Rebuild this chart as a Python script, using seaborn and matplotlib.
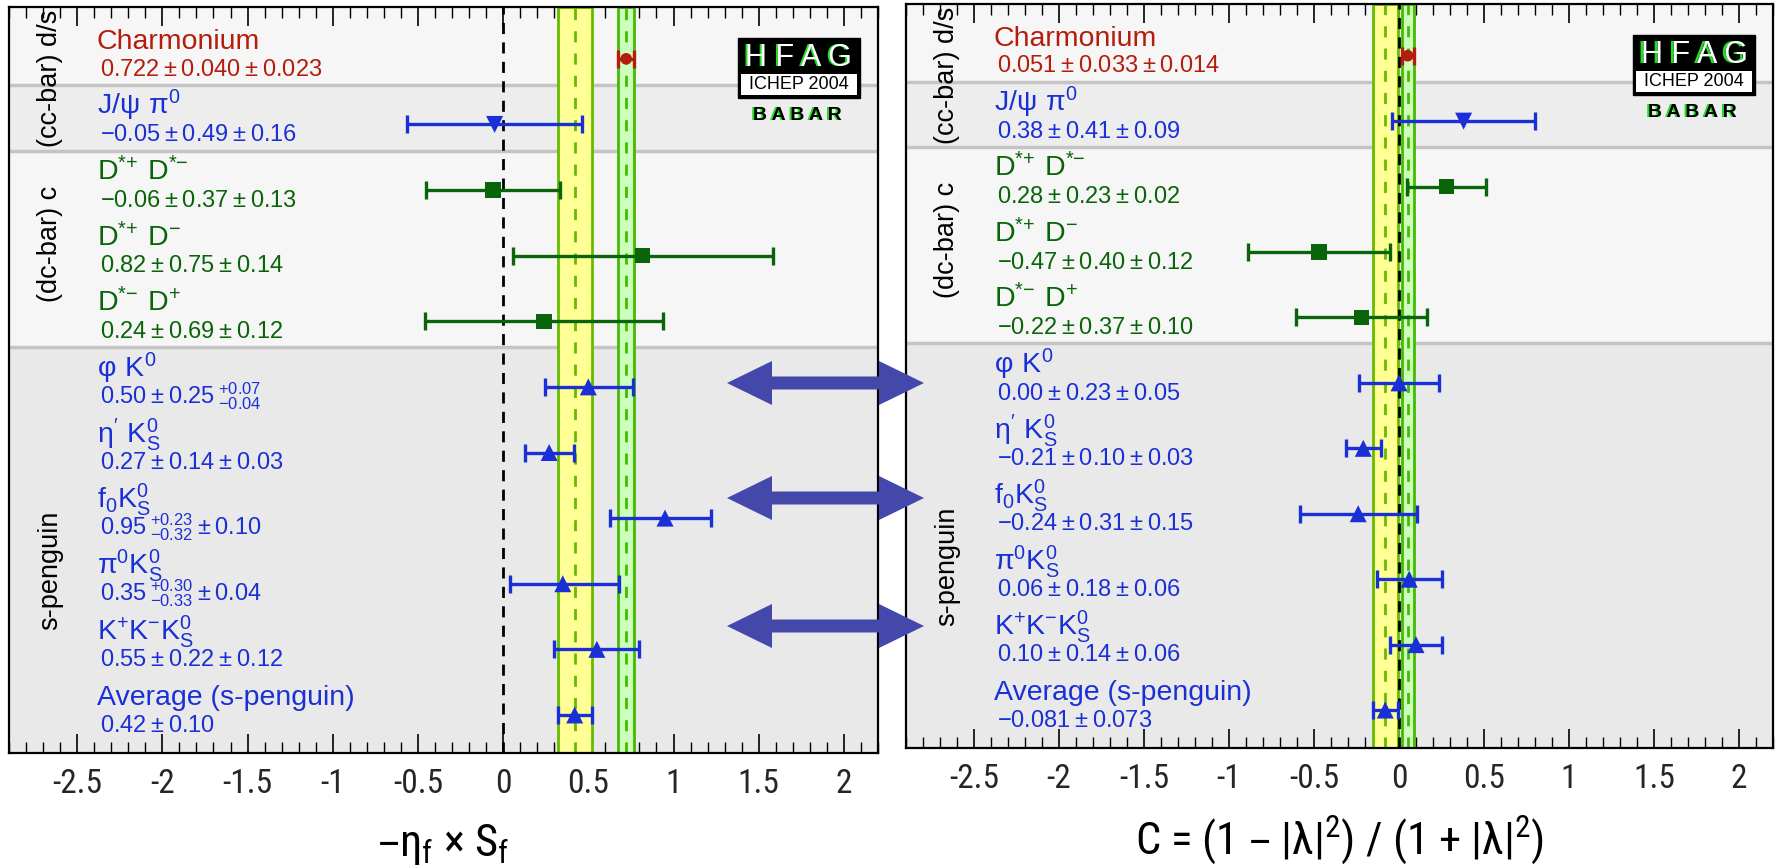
import matplotlib
matplotlib.use("Agg")
import matplotlib.pyplot as plt
import seaborn as sns
import pandas as pd
from matplotlib import font_manager as fm
from matplotlib.ticker import MultipleLocator, FuncFormatter
from matplotlib.patches import Rectangle, Polygon
from matplotlib.transforms import blended_transform_factory, offset_copy

# ---------------- data ----------------
rows = list(range(11))
groups = ["charm", "jpsi", "dc", "dc", "dc", "peng", "peng", "peng", "peng", "peng", "avg"]
name_labels = [
    "Charmonium",
    r"$J/ψ\ π^{0}$",
    r"$D^{{*}{+}}\ D^{{*}{-}}$",
    r"$D^{{*}{+}}\ D^{{-}}$",
    r"$D^{{*}{-}}\ D^{{+}}$",
    r"$φ\ K^{0}$",
    r"$η'\ K_{S}^{0}$",
    r"$f_{0}K_{S}^{0}$",
    r"$π^{0}K_{S}^{0}$",
    r"$K^{+}K^{-}K_{S}^{0}$",
    "Average (s-penguin)",
]

S_values = [0.722, -0.05, -0.06, 0.82, 0.24, 0.50, 0.27, 0.95, 0.35, 0.55, 0.42]
S_err_lo = [0.046, 0.515, 0.392, 0.763, 0.70, 0.253, 0.143, 0.32, 0.31, 0.25, 0.10]
S_err_hi = [0.046, 0.515, 0.392, 0.763, 0.70, 0.26, 0.143, 0.27, 0.33, 0.25, 0.10]
S_texts = [
    r"$0.722\pm0.040\pm0.023$",
    r"$-0.05\pm0.49\pm0.16$",
    r"$-0.06\pm0.37\pm0.13$",
    r"$0.82\pm0.75\pm0.14$",
    r"$0.24\pm0.69\pm0.12$",
    r"$0.50\pm0.25\,{}^{+0.07}_{-0.04}$",
    r"$0.27\pm0.14\pm0.03$",
    r"$0.95\,{}^{+0.23}_{-0.32}\pm0.10$",
    r"$0.35\,{}^{+0.30}_{-0.33}\pm0.04$",
    r"$0.55\pm0.22\pm0.12$",
    r"$0.42\pm0.10$",
]
S_avg, S_avg_err = 0.42, 0.10
S_ref, S_ref_err = 0.722, 0.046

C_values = [0.051, 0.38, 0.28, -0.47, -0.22, 0.00, -0.21, -0.24, 0.06, 0.10, -0.081]
C_err = [0.036, 0.42, 0.231, 0.418, 0.383, 0.235, 0.104, 0.344, 0.19, 0.152, 0.073]
C_texts = [
    r"$0.051\pm0.033\pm0.014$",
    r"$0.38\pm0.41\pm0.09$",
    r"$0.28\pm0.23\pm0.02$",
    r"$-0.47\pm0.40\pm0.12$",
    r"$-0.22\pm0.37\pm0.10$",
    r"$0.00\pm0.23\pm0.05$",
    r"$-0.21\pm0.10\pm0.03$",
    r"$-0.24\pm0.31\pm0.15$",
    r"$0.06\pm0.18\pm0.06$",
    r"$0.10\pm0.14\pm0.06$",
    r"$-0.081\pm0.073$",
]
C_avg, C_avg_err = -0.081, 0.073
C_ref, C_ref_err = 0.051, 0.036

section_labels = ["(cc-bar) d/s", "(dc-bar) c", "s-penguin"]
section_label_y = [0.30, 2.82, 7.8]
sections = [(-0.79, 0.40, "#f6f6f6"), (0.40, 1.40, "#ededed"),
            (1.40, 4.39, "#f6f6f6"), (4.39, 10.58, "#e9e9e9")]
separators = [0.40, 1.40, 4.39]

# ---------------- style ----------------
sns.set_theme(style="white")
avail = {f.name for f in fm.fontManager.ttflist}
base_font = "Liberation Sans"
narrow_font = next((f for f in ["Liberation Sans Narrow", "DejaVu Sans Condensed",
                                "Roboto Condensed", "Open Sans Condensed"] if f in avail), None)
plt.rcParams["font.family"] = [base_font, "DejaVu Sans"]
plt.rcParams["mathtext.default"] = "regular"
plt.rcParams["axes.unicode_minus"] = False
if narrow_font:
    axis_font, tick_size, title_size = narrow_font, 24, 32
else:
    axis_font, tick_size, title_size = base_font, 20, 27
sect_size = 19.5

RED = "#b41c0c"
BLUE = "#1a30d6"
GREEN = "#0a640a"
text_color = {"charm": RED, "jpsi": BLUE, "dc": GREEN, "peng": BLUE, "avg": BLUE}
marker_of = {"charm": "o", "jpsi": "v", "dc": "s", "peng": "^", "avg": "^"}
size_of = {"charm": 70, "jpsi": 150, "dc": 120, "peng": 150, "avg": 150}

fig = plt.figure(figsize=(17.76, 8.66), dpi=100)
axL = fig.add_axes([9 / 1776, 113 / 866, 869 / 1776, 746 / 866])
axR = fig.add_axes([906 / 1776, 118 / 866, 867 / 1776, 744 / 866])


def draw_panel(ax, vals, lo, hi, texts, avg, avg_err, ref, ref_err, xlabel):
    df = pd.DataFrame({"x": vals, "row": rows, "group": groups})
    for a, b, c in sections:
        ax.axhspan(a, b, facecolor=c, lw=0, zorder=0)
    for s in separators:
        ax.axhline(s, color="#c4c4c4", lw=2.5, zorder=0.5)
    # bands
    ax.axvspan(avg - avg_err, avg + avg_err, facecolor="#ffff96", edgecolor="#66bb00",
               lw=2, zorder=1)
    ax.axvline(avg, color="#66bb00", lw=2, ls=(0, (4, 4)), zorder=1.2)
    ax.axvspan(ref - ref_err, ref + ref_err, facecolor="#ccffbb", edgecolor="#44bb00",
               lw=2, zorder=1)
    ax.axvline(ref, color="#44bb00", lw=2, ls=(0, (4, 4)), zorder=1.2)
    ax.axvline(0, color="black", lw=2, ls=(0, (4, 3)), zorder=1.5)
    # error bars
    for i in rows:
        g = groups[i]
        ax.errorbar(vals[i], i, xerr=[[lo[i]], [hi[i]]], fmt="none",
                    ecolor=text_color[g], elinewidth=2.4, capsize=6.5, capthick=2.4,
                    zorder=3)
    # markers
    for g in ["charm", "jpsi", "dc", "peng", "avg"]:
        sub = df[df["group"] == g]
        sns.scatterplot(data=sub, x="x", y="row", marker=marker_of[g], s=size_of[g],
                        color=text_color[g], edgecolor="none", linewidth=0, ax=ax,
                        legend=False, zorder=4)
    ax.set_xlabel("")
    ax.set_ylabel("")
    ax.set_xlim(-2.9, 2.2)
    ax.set_ylim(10.58, -0.79)
    trans = blended_transform_factory(ax.transAxes, ax.transData)
    for i in rows:
        c = text_color[groups[i]]
        ax.text(0.101, i - 0.15, name_labels[i], transform=trans, fontsize=20.5,
                color=c, ha="left", va="baseline", zorder=5)
        ax.text(0.105, i + 0.255, texts[i], transform=trans, fontsize=17,
                color=c, ha="left", va="baseline", zorder=5)
    for lab, yy in zip(section_labels, section_label_y):
        ax.text(0.047, yy, lab, transform=trans, rotation=90, fontsize=sect_size,
                ha="center", va="center", color="black", zorder=5)
    # ticks
    ax.xaxis.set_major_locator(MultipleLocator(0.5))
    ax.xaxis.set_minor_locator(MultipleLocator(0.1))
    ax.xaxis.set_major_formatter(FuncFormatter(lambda v, p: f"{v:g}"))
    ax.tick_params(axis="x", which="major", direction="in", top=True, bottom=True,
                   length=14, width=1.2, color="black", labelsize=tick_size, pad=11)
    ax.tick_params(axis="x", which="minor", direction="in", top=True, bottom=True,
                   length=8, width=1.0, color="black")
    for lbl in ax.get_xticklabels():
        lbl.set_family(axis_font)
    ax.set_yticks([])
    for sp in ax.spines.values():
        sp.set_color("black")
        sp.set_linewidth(1.6)
        sp.set_zorder(6)
    ax.text(0.5, -0.123, xlabel, transform=ax.transAxes, ha="center", va="center",
            fontsize=title_size, family=axis_font, color="black")
    # HFAG logo
    ax.add_patch(Rectangle((0.839, 0.878), 0.140, 0.080, transform=ax.transAxes,
                           facecolor="black", edgecolor="black", lw=1, zorder=6))
    ax.add_patch(Rectangle((0.842, 0.882), 0.134, 0.028, transform=ax.transAxes,
                           facecolor="white", edgecolor="none", zorder=7))
    sh = offset_copy(ax.transAxes, fig=fig, x=-2.5, y=0, units="dots")
    ax.text(0.909, 0.932, "H F A G", transform=sh, fontsize=22, color="#22dd22",
            ha="center", va="center", zorder=8)
    ax.text(0.909, 0.932, "H F A G", transform=ax.transAxes, fontsize=22, color="white",
            ha="center", va="center", zorder=9)
    ax.text(0.909, 0.8955, "ICHEP 2004", transform=ax.transAxes, fontsize=13,
            color="black", ha="center", va="center", zorder=9)
    sh2 = offset_copy(ax.transAxes, fig=fig, x=-2, y=0, units="dots")
    ax.text(0.907, 0.854, "B A B A R", transform=sh2, fontsize=14, weight="bold",
            color="#22dd22", ha="center", va="center", zorder=8)
    ax.text(0.907, 0.854, "B A B A R", transform=ax.transAxes, fontsize=14,
            weight="bold", color="black", ha="center", va="center", zorder=9)


draw_panel(axL, S_values, S_err_lo, S_err_hi, S_texts, S_avg, S_avg_err,
           S_ref, S_ref_err, "–η$_{f}$ × S$_{f}$")
draw_panel(axR, C_values, C_err, C_err, C_texts, C_avg, C_avg_err,
           C_ref, C_ref_err, "C = (1 – |λ|$^{2}$) / (1 + |λ|$^{2}$)")

# double-headed arrows linking the two panels (figure pixel geometry)
W, H = 1776.0, 866.0
arrow_y = [383, 498, 626]
ax0, ax1 = 727, 924
head_len, head_half, shaft_half = 45, 22, 6.5
for yc in arrow_y:
    pts = [(ax0, yc), (ax0 + head_len, yc - head_half), (ax0 + head_len, yc - shaft_half),
           (ax1 - head_len, yc - shaft_half), (ax1 - head_len, yc - head_half), (ax1, yc),
           (ax1 - head_len, yc + head_half), (ax1 - head_len, yc + shaft_half),
           (ax0 + head_len, yc + shaft_half), (ax0 + head_len, yc + head_half)]
    poly = Polygon([(px / W, 1 - py / H) for px, py in pts], closed=True,
                   transform=fig.transFigure, facecolor="#4448aa", edgecolor="none",
                   zorder=10)
    fig.add_artist(poly)

fig.savefig("out.png", dpi=100, facecolor="white")
